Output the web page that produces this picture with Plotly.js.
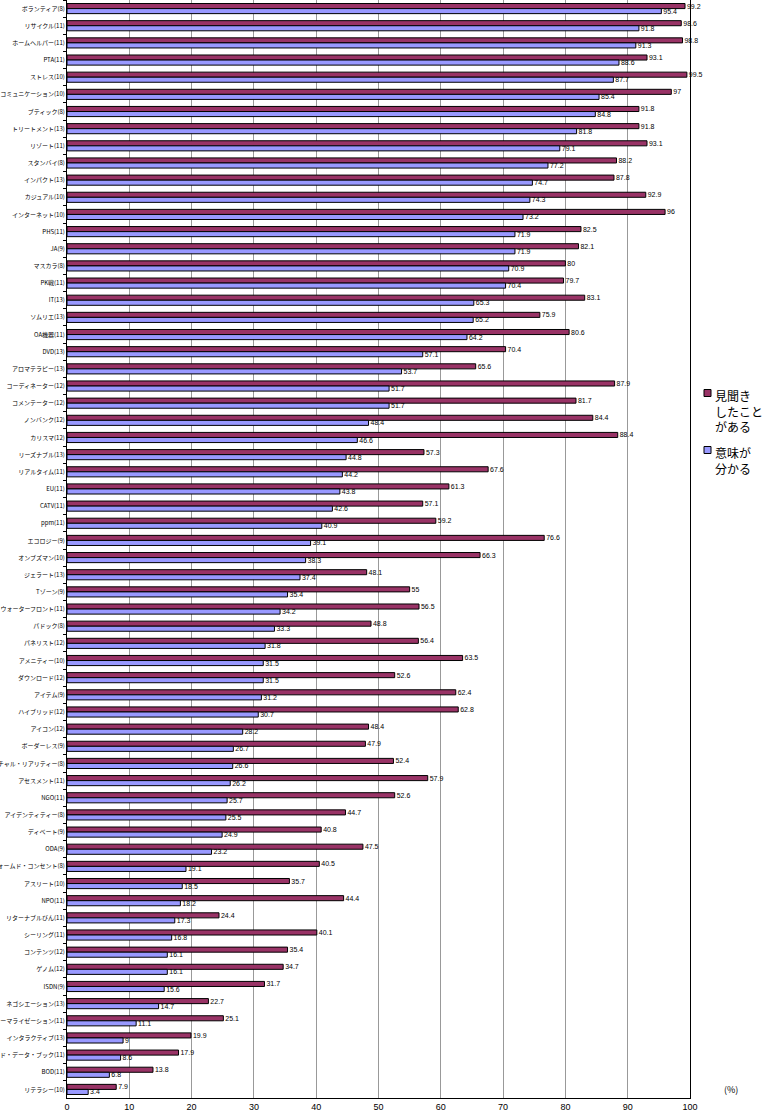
<!DOCTYPE html>
<html>
<head>
<meta charset="utf-8">
<script src="https://cdn.plot.ly/plotly-3.0.1.min.js"></script>
<style>html,body{margin:0;padding:0;background:#fff;}#chart{width:762px;height:1115px;}</style>
</head>
<body>
<div id="chart"></div>
<script>
const categories = [
  "ボランティア(8)","リサイクル(11)","ホームヘルパー(11)","PTA(11)","ストレス(10)",
  "コミュニケーション(10)","ブティック(8)","トリートメント(13)","リゾート(11)","スタンバイ(8)",
  "インパクト(13)","カジュアル(10)","インターネット(10)","PHS(11)","JA(9)",
  "マスカラ(8)","PK戦(11)","IT(13)","ソムリエ(13)","OA機器(11)",
  "DVD(13)","アロマテラピー(13)","コーディネーター(12)","コメンテーター(12)","ノンバンク(12)",
  "カリスマ(12)","リーズナブル(13)","リアルタイム(11)","EU(11)","CATV(11)",
  "ppm(11)","エコロジー(9)","オンブズマン(10)","ジェラート(13)","Tゾーン(9)",
  "ウォーターフロント(11)","パドック(8)","パネリスト(12)","アメニティー(10)","ダウンロード(12)",
  "アイテム(9)","ハイブリッド(12)","アイコン(12)","ボーダーレス(9)","バーチャル・リアリティー(8)",
  "アセスメント(11)","NGO(11)","アイデンティティー(8)","ディベート(9)","ODA(9)",
  "インフォームド・コンセント(8)","アスリート(10)","NPO(11)","リターナブルびん(11)","シーリング(11)",
  "コンテンツ(12)","ゲノム(12)","ISDN(9)","ネゴシエーション(13)","ノーマライゼーション(11)",
  "インタラクティブ(13)","レッド・データ・ブック(11)","BOD(11)","リテラシー(10)"
];
const heard = [
  99.2,98.6,98.8,93.1,99.5,
  97,91.8,91.8,93.1,88.2,
  87.8,92.9,96,82.5,82.1,
  80,79.7,83.1,75.9,80.6,
  70.4,65.6,87.9,81.7,84.4,
  88.4,57.3,67.6,61.3,57.1,
  59.2,76.6,66.3,48.1,55,
  56.5,48.8,56.4,63.5,52.6,
  62.4,62.8,48.4,47.9,52.4,
  57.9,52.6,44.7,40.8,47.5,
  40.5,35.7,44.4,24.4,40.1,
  35.4,34.7,31.7,22.7,25.1,
  19.9,17.9,13.8,7.9
];
const understand = [
  95.4,91.8,91.3,88.6,87.7,
  85.4,84.8,81.8,79.1,77.2,
  74.7,74.3,73.2,71.9,71.9,
  70.9,70.4,65.3,65.2,64.2,
  57.1,53.7,51.7,51.7,48.4,
  46.6,44.8,44.2,43.8,42.6,
  40.9,39.1,38.3,37.4,35.4,
  34.2,33.3,31.8,31.5,31.5,
  31.2,30.7,28.2,26.7,26.6,
  26.2,25.7,25.5,24.9,23.2,
  19.1,18.5,18.2,17.3,16.8,
  16.1,16.1,15.6,14.7,11.1,
  9,8.6,6.8,3.4
];
const seriesNames = ["見聞き<br>したこと<br>がある","意味が<br>分かる"];
const seriesColors = ["#993366","#9999FF"];
const xTicks = [0,10,20,30,40,50,60,70,80,90,100];

const W = 762, H = 1115, ML = 67, MR = 72, MT = 0, MB = 17;
const px2x = p => (p - ML) / (W - ML - MR);
const px2y = p => 1 - (p - MT) / (H - MT - MB);

const jp = '"Noto Sans CJK JP", "Noto Sans", sans-serif';
function mk(vals, name, color){
  return {
    type:'bar', orientation:'h', y:categories, x:vals, name:name,
    marker:{color:color, line:{color:'#000', width:1}},
    text:vals.map(v => '\u00a0' + v), textposition:'outside', constraintext:'none',
    cliponaxis:false,
    textfont:{size:7, color:'#000', family:'"Liberation Sans", Arial, sans-serif'},
    hoverinfo:'x+y'
  };
}
const data = [mk(heard, seriesNames[0], seriesColors[0]), mk(understand, seriesNames[1], seriesColors[1])];

// manual legend (placed in the right margin, like the original)
const legendTops = [385, 442];   // pixel top of first text line
const shapes = [], annotations = [];
seriesNames.forEach((nm, i) => {
  const cy = legendTops[i] + 8;
  shapes.push({type:'rect', xref:'paper', yref:'paper',
    x0:px2x(704), x1:px2x(711), y0:px2y(cy - 3.5), y1:px2y(cy + 3.5),
    fillcolor:seriesColors[i], line:{color:'#000', width:1}});
  annotations.push({text:nm, xref:'paper', yref:'paper', x:px2x(713), y:px2y(legendTops[i]),
    xanchor:'left', yanchor:'top', align:'left', showarrow:false,
    font:{size:12, family:jp, color:'#000'}});
});
annotations.push({text:'(%)', xref:'paper', yref:'paper', x:px2x(722), y:0.0, xanchor:'left', yanchor:'bottom',
  showarrow:false, font:{size:9, family:jp, color:'#000'}});

const layout = {
  width:W, height:H,
  margin:{l:ML, r:MR, t:MT, b:MB, pad:0},
  paper_bgcolor:'#fff', plot_bgcolor:'#fff',
  barmode:'group', bargap:0.41, bargroupgap:0,
  showlegend:false,
  xaxis:{range:[0,100], tickvals:xTicks, ticktext:xTicks.map(String),
    showgrid:true, gridcolor:'#999', gridwidth:1, zeroline:false,
    showline:true, linecolor:'#000', linewidth:1, mirror:true,
    ticks:'', tickfont:{size:9, family:'"Liberation Sans", Arial, sans-serif', color:'#000'},
    automargin:false, fixedrange:true},
  yaxis:{type:'category', autorange:'reversed', showgrid:false, zeroline:false,
    showline:true, linecolor:'#000', linewidth:1, mirror:true,
    ticks:'outside', ticklen:3, tickcolor:'#000', tickson:'boundaries',
    tickfont:{size:6, family:jp, color:'#000'},
    automargin:false, fixedrange:true},
  shapes:shapes,
  annotations:annotations
};
Plotly.newPlot('chart', data, layout, {displayModeBar:false, staticPlot:true});
</script>
</body>
</html>
